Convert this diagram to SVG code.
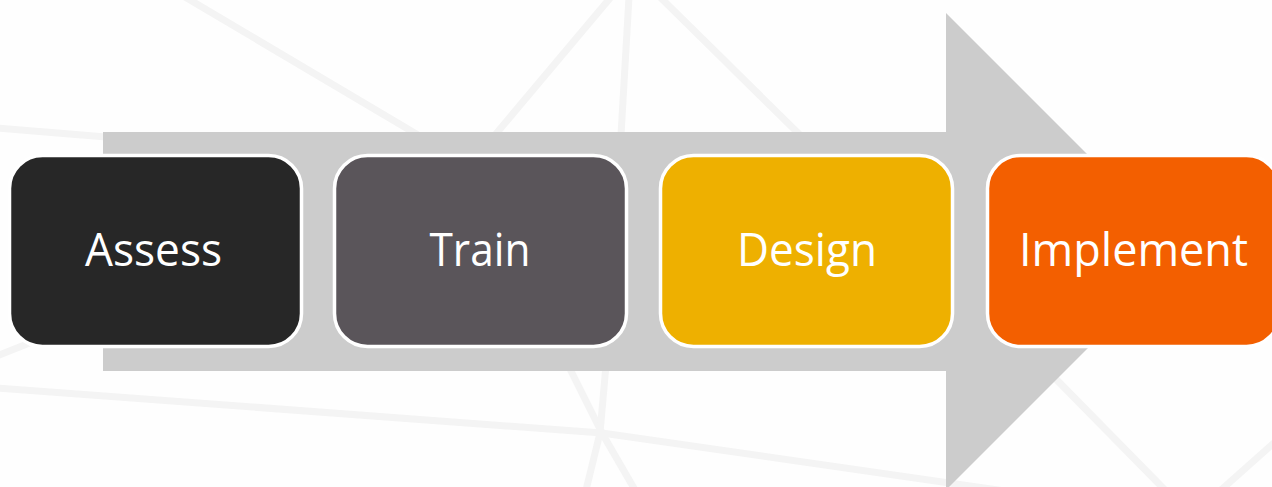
<svg xmlns="http://www.w3.org/2000/svg" width="1272" height="487" viewBox="0 0 1272 487">
<style>
.bg{fill:none;stroke:#f4f4f4;stroke-width:7}
.box{stroke:#fff;stroke-width:3.500}
.lbl{font-family:"Open Sans","Noto Sans",sans-serif;font-size:46px;fill:#fff;text-anchor:middle}
</style>
<rect width="1272" height="487" fill="#fefefe"/>
<g id="background-lines">
<path class="bg" d="M185 -3L418 135"/>
<path class="bg" d="M611 -3L495 135"/>
<path class="bg" d="M629 -3L621 135"/>
<path class="bg" d="M660 -3L800 135"/>
<path class="bg" d="M-3 128L106 137"/>
<path class="bg" d="M-3 356L32 342"/>
<path class="bg" d="M-3 388L602 433L1005 491"/>
<path class="bg" d="M568 365L602 433L635 490"/>
<path class="bg" d="M606 365L600 433L586 490"/>
<path class="bg" d="M1050 373L1165 490"/>
<path class="bg" d="M1275 442L1221 490"/>
</g>
<g id="connectors">
<path id="arrow" fill="#cccccc" d="M103 132H946V13L1184.500 251.500L946 490V371H103Z"/>
</g>
<g id="assess"><rect class="box" x="9.500" y="155.500" width="292" height="191" rx="33" fill="#272727"/><text class="lbl" x="153.500" y="266" textLength="137" lengthAdjust="spacingAndGlyphs">Assess</text></g>
<g id="train"><rect class="box" x="334.500" y="155.500" width="292" height="191" rx="33" fill="#5a555a"/><text class="lbl" x="480" y="266" textLength="101" lengthAdjust="spacingAndGlyphs">Train</text></g>
<g id="design"><rect class="box" x="660.500" y="155.500" width="292" height="191" rx="33" fill="#eeb000"/><text class="lbl" x="807" y="266" textLength="140" lengthAdjust="spacingAndGlyphs">Design</text></g>
<g id="implement"><rect class="box" x="987.500" y="155.500" width="292" height="191" rx="33" fill="#f35f00"/><text class="lbl" x="1133.500" y="266" textLength="229" lengthAdjust="spacingAndGlyphs">Implement</text></g>
</svg>
